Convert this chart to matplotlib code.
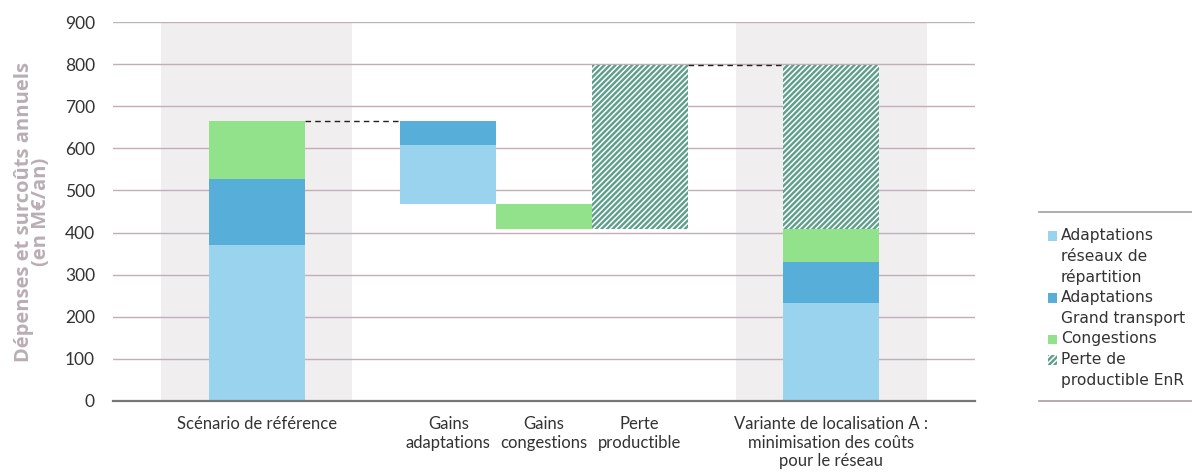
import matplotlib
matplotlib.use("Agg")
import matplotlib.pyplot as plt
from matplotlib.patches import Rectangle
from matplotlib.lines import Line2D

plt.rcParams['font.family'] = ['Lato', 'DejaVu Sans']
plt.rcParams['hatch.linewidth'] = 1.1

W, H = 1192, 472

# Categories (x slots) and tick labels
categories = ["Scénario de référence", "Gains\nadaptations", "Gains\ncongestions",
              "Perte\nproductible",
              "Variante de localisation A :\nminimisation des coûts\npour le réseau"]
positions = [0, 2, 3, 4, 6]

series = ["Adaptations\nréseaux de\nrépartition", "Adaptations\nGrand transport",
          "Congestions", "Perte de\nproductible EnR"]

# Annual costs (M€/an)
reference = [370, 157, 138, 0]
variant = [232, 99, 78, 389]

c_rep = "#9ad3ee"
c_gt = "#57aed9"
c_cong = "#92e18b"
c_perte = "#5e9f8b"
colors = [c_rep, c_gt, c_cong, c_perte]
HATCH = "//////"

fig = plt.figure(figsize=(W / 100, H / 100), dpi=100)
ax = fig.add_axes([113 / W, 1 - 400.7 / H, (975 - 113) / W, (400.7 - 22.3) / H])
ax.set_xlim(-1.5, 7.5)
ax.set_ylim(0, 900)

# Highlight bands behind the two totals
for p in (positions[0], positions[4]):
    ax.axvspan(p - 1, p + 1, color="#f0eeef", zorder=0, lw=0)

ax.set_yticks(range(0, 901, 100))
ax.grid(axis="y", color="#c2aeb9", lw=1.0, zorder=1)
ax.set_axisbelow(False)

w = 1.0
bk = dict(width=w, linewidth=0, zorder=3)

# Reference stack
bottom = 0
for v, c in zip(reference[:3], colors[:3]):
    ax.bar(positions[0], v, bottom=bottom, color=c, **bk)
    bottom += v
ref_total = bottom

# Gains from adaptations (reductions in both network adaptation series)
d_rep = reference[0] - variant[0]
d_gt = reference[1] - variant[1]
ax.bar(positions[1], d_gt, bottom=ref_total - d_gt, color=c_gt, **bk)
ax.bar(positions[1], d_rep, bottom=ref_total - d_gt - d_rep, color=c_rep, **bk)
level = ref_total - d_gt - d_rep

# Gains from congestions
d_cong = reference[2] - variant[2]
ax.bar(positions[2], d_cong, bottom=level - d_cong, color=c_cong, **bk)
level -= d_cong

# Lost renewable production
ax.bar(positions[3], variant[3], bottom=level, color=c_perte, edgecolor="white",
       hatch=HATCH, width=w, linewidth=0, zorder=3)
perte_top = level + variant[3]

# Variant stack
bottom = 0
for v, c in zip(variant[:3], colors[:3]):
    ax.bar(positions[4], v, bottom=bottom, color=c, **bk)
    bottom += v
ax.bar(positions[4], variant[3], bottom=bottom, color=c_perte, edgecolor="white",
       hatch=HATCH, width=w, linewidth=0, zorder=3)

# Dashed connectors
ax.plot([positions[0] + w / 2, positions[1] - w / 2], [ref_total, ref_total],
        ls=(0, (4, 3)), color="#222222", lw=1.0, zorder=4)
ax.plot([positions[3] + w / 2, positions[4] - w / 2], [perte_top, perte_top],
        ls=(0, (4, 3)), color="#222222", lw=1.0, zorder=4)

ax.set_xticks(positions)
ax.set_xticklabels(categories, fontsize=12, color="#333333", linespacing=1.2)
ax.tick_params(axis="x", length=0, pad=11)
ax.tick_params(axis="y", length=0, labelsize=12.5, labelcolor="#333333", pad=13)
for s in ("top", "right", "left"):
    ax.spines[s].set_visible(False)
ax.spines["bottom"].set_color("#777777")
ax.spines["bottom"].set_linewidth(1.6)
ax.spines["bottom"].set_zorder(5)

ax.set_ylabel("Dépenses et surcoûts annuels\n(en M€/an)", fontsize=14.5,
              fontweight="bold", color="#b9aeb3", linespacing=0.8,
              family=["Open Sans", "DejaVu Sans"])
ax.yaxis.set_label_coords(-0.072, 0.5)

# Legend block on the right, between two rules
def fy(py):
    return 1 - py / H

line_h = 20.7
y = 235.5
for lab, c in zip(series, colors):
    kw = dict(facecolor=c, lw=0, transform=fig.transFigure)
    if c == c_perte:
        kw.update(edgecolor="white", hatch="//////")
    fig.add_artist(Rectangle((1047.5 / W, fy(y + 5)), 9.5 / W, 9.5 / H, **kw))
    for k, part in enumerate(lab.split("\n")):
        fig.text(1061 / W, fy(y + k * line_h), part, fontsize=11.2,
                 family=["DejaVu Sans"], color="#333333", va="center", ha="left")
    y += line_h * len(lab.split("\n"))

for yy in (212, 401):
    fig.add_artist(Line2D([1039 / W, 1.0], [fy(yy), fy(yy)],
                          color="#aa9ba3", lw=1.2, transform=fig.transFigure))

fig.savefig("out.png", dpi=100)
